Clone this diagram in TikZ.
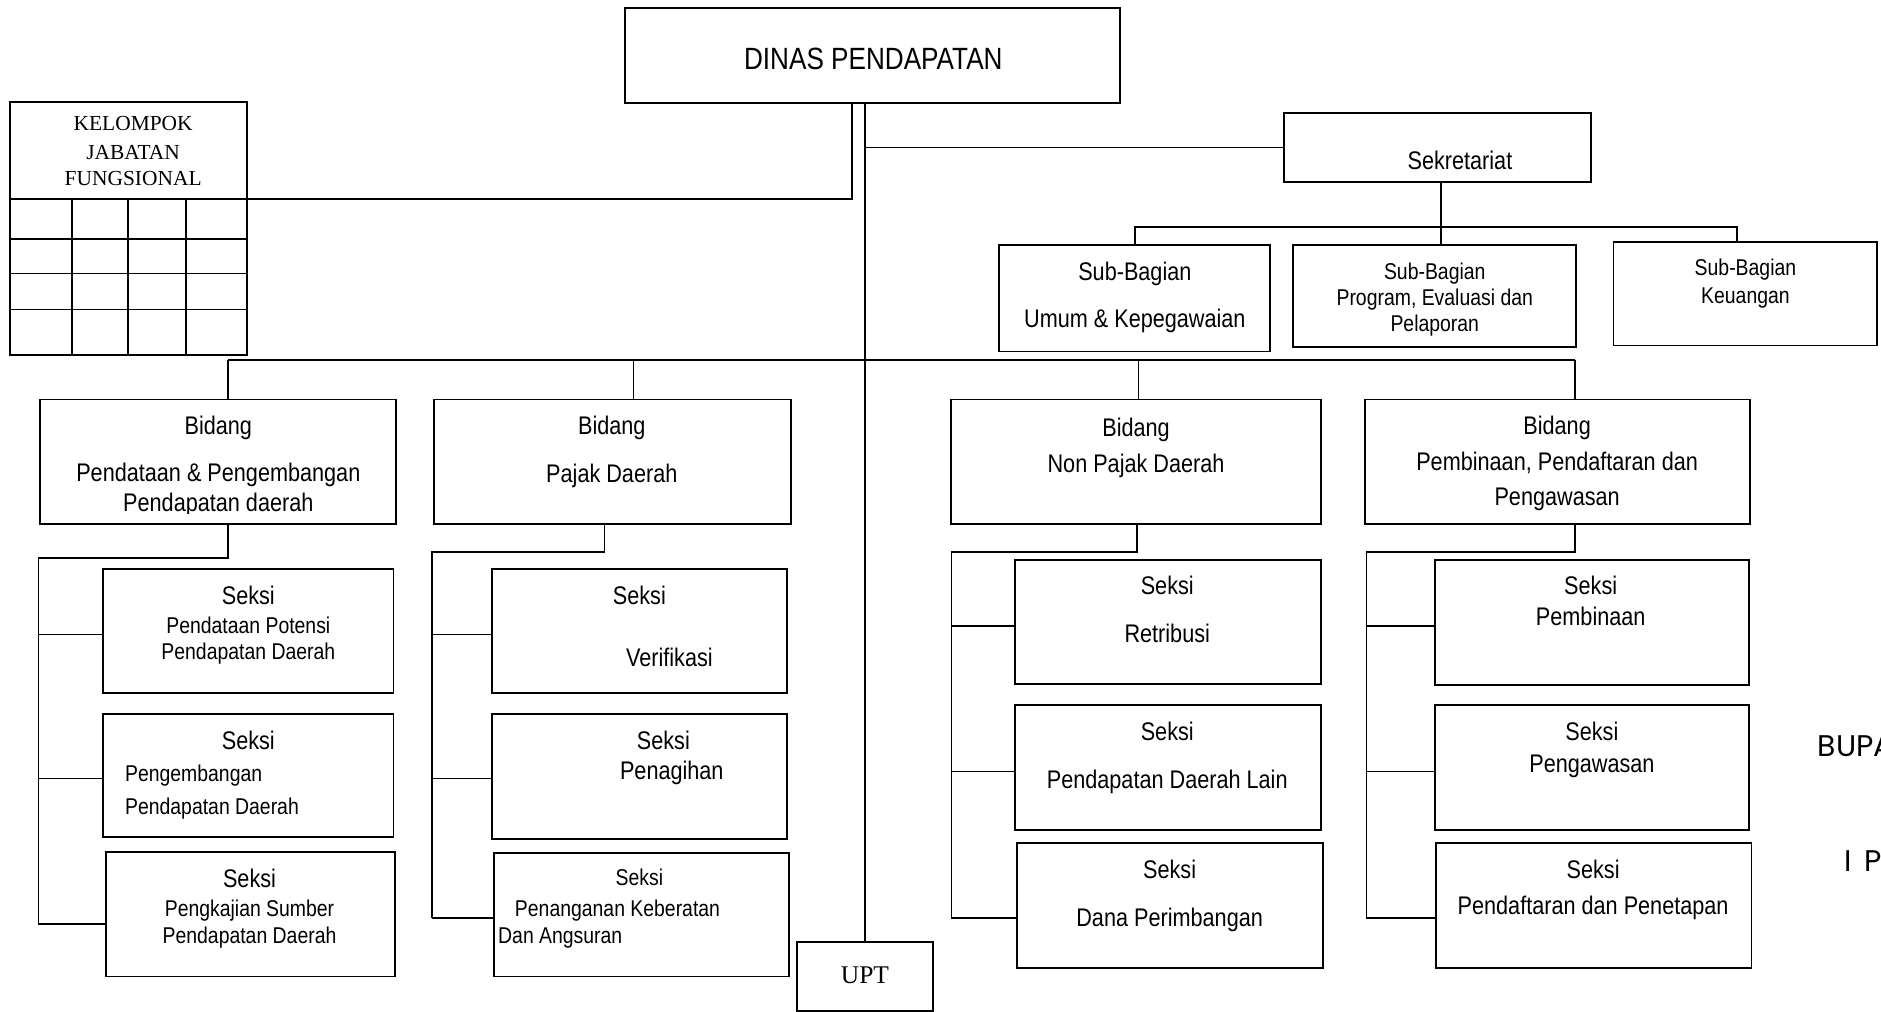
\documentclass[tikz,border=0pt]{standalone}
\usepackage{fontspec}
\setmainfont[FakeStretch=0.85]{Liberation Sans}
\newfontfamily\tnr{Liberation Serif}
\newfontfamily\gothic{Poppins}
\usetikzlibrary{fit}
\newcommand\fdinas{\fontsize{17.5}{20}\selectfont}
\newcommand\fbig{\fontsize{14.5}{17}\selectfont}
\newcommand\fsmall{\fontsize{13}{15}\selectfont}
\tikzset{
	box/.style={draw, line width=1.1pt, inner sep=0pt},
	conn/.style={line width=0.9pt},
	big/.style={font=\fbig, anchor=base, yshift=-5.2pt, inner sep=0pt},
	small/.style={font=\fsmall, anchor=base, yshift=-4.6pt, inner sep=0pt},
	serif/.style={font=\tnr\fontsize{12.2}{14}\selectfont, anchor=base, yshift=-4pt, inner sep=0pt},
	side/.style={font=\gothic\fontsize{17}{20}\selectfont, anchor=base west, yshift=-6pt, inner sep=0pt},
}
\begin{document}
\begin{tikzpicture}[x=0.024cm, y=-0.024cm]
	\useasboundingbox (0,0) rectangle (1568,843);
	\node[box, fit={(521,7) (934,86)}] (dinas) {};
	\node[big, font=\fdinas, yshift=-1.1pt] (dinast) at (728,49) {DINAS PENDAPATAN};
	\node[box, fit={(8,85) (206,296)}] (kjf) {};
	\foreach \y in {166,199,228,258} \draw[line width=1.1pt] (8,\y) -- (206,\y);
	\foreach \x in {60,107,155} \draw[line width=1.1pt] (\x,166) -- (\x,296);
	\node[serif] (kj1) at (111,102.7) {KELOMPOK};
	\node[serif] (kj2) at (111,126.7) {JABATAN};
	\node[serif] (kj3) at (111,149) {FUNGSIONAL};
	\node[box, fit={(1070,94) (1326,152)}] (sek) {};
	\node[big] (sekt) at (1217,134) {Sekretariat};
	\node[box, fit={(833,204) (1059,293)}] (sbumum) {};
	\node[big] (sbumum1) at (946,226) {Sub-Bagian};
	\node[big] (sbumum2) at (946,265) {Umum \& Kepegawaian};
	\node[box, fit={(1078,204) (1314,289)}] (sbprog) {};
	\node[small] (sbprog1) at (1196,226) {Sub-Bagian};
	\node[small] (sbprog2) at (1196,248) {Program, Evaluasi dan};
	\node[small] (sbprog3) at (1196,270) {Pelaporan};
	\node[box, fit={(1345,202) (1565,288)}] (sbkeu) {};
	\node[small] (sbkeu1) at (1455,223) {Sub-Bagian};
	\node[small] (sbkeu2) at (1455,246) {Keuangan};
	\node[box, fit={(33,333) (330,437)}] (b1) {};
	\node[big] (b1a) at (182,355) {Bidang};
	\node[big] (b1b) at (182,394) {Pendataan \& Pengembangan};
	\begin{scope}
		\clip (33,333) rectangle (330,428);
		\node[big] (b1c) at (182,419) {Pendapatan daerah};
	\end{scope}
	\node[box, fit={(362,333) (659,437)}] (b2) {};
	\node[big] (b2a) at (510,355) {Bidang};
	\node[big] (b2b) at (510,395) {Pajak Daerah};
	\node[box, fit={(793,333) (1101,437)}] (b3) {};
	\node[big] (b3a) at (947,356) {Bidang};
	\node[big] (b3b) at (947,386) {Non Pajak Daerah};
	\node[box, fit={(1138,333) (1459,437)}] (b4) {};
	\node[big] (b4a) at (1298,355) {Bidang};
	\node[big] (b4b) at (1298,385) {Pembinaan, Pendaftaran dan};
	\node[big] (b4c) at (1298,414) {Pengawasan};
	\node[box, fit={(86,474) (328,578)}] (s11) {};
	\node[big] (s11a) at (207,496) {Seksi};
	\node[small] (s11b) at (207,521) {Pendataan Potensi};
	\node[small] (s11c) at (207,543) {Pendapatan Daerah};
	\node[box, fit={(86,595) (328,698)}] (s12) {};
	\node[big] (s12a) at (207,617) {Seksi};
	\node[small, anchor=base west] (s12b) at (104,645) {Pengembangan};
	\node[small, anchor=base west] (s12c) at (104,672) {Pendapatan Daerah};
	\node[box, fit={(88,710) (329,814)}] (s13) {};
	\node[big] (s13a) at (208,732) {Seksi};
	\node[small] (s13b) at (208,757) {Pengkajian Sumber};
	\node[small] (s13c) at (208,780) {Pendapatan Daerah};
	\node[box, fit={(410,474) (656,578)}] (s21) {};
	\node[big] (s21a) at (533,496) {Seksi};
	\node[big] (s21b) at (558,548) {Verifikasi};
	\node[box, fit={(410,595) (656,699)}] (s22) {};
	\node[big] (s22a) at (553,617) {Seksi};
	\node[big] (s22b) at (560,642) {Penagihan};
	\node[box, fit={(412,711) (658,814)}] (s23) {};
	\node[small] (s23a) at (533,731) {Seksi};
	\node[small, anchor=base west] (s23b) at (429,757) {Penanganan Keberatan};
	\node[small, anchor=base west] (s23c) at (415,780) {Dan Angsuran};
	\node[box, fit={(846,467) (1101,570)}] (s31) {};
	\node[big] (s31a) at (973,488) {Seksi};
	\node[big] (s31b) at (973,528) {Retribusi};
	\node[box, fit={(846,588) (1101,692)}] (s32) {};
	\node[big] (s32a) at (973,610) {Seksi};
	\node[big] (s32b) at (973,650) {Pendapatan Daerah Lain};
	\node[box, fit={(848,703) (1103,807)}] (s33) {};
	\node[big] (s33a) at (975,725) {Seksi};
	\node[big] (s33b) at (975,765) {Dana Perimbangan};
	\node[box, fit={(1196,467) (1458,571)}] (s41) {};
	\node[big] (s41a) at (1326,488) {Seksi};
	\node[big] (s41b) at (1326,514) {Pembinaan};
	\node[box, fit={(1196,588) (1458,692)}] (s42) {};
	\node[big] (s42a) at (1327,610) {Seksi};
	\node[big] (s42b) at (1327,636) {Pengawasan};
	\node[box, fit={(1197,703) (1460,807)}] (s43) {};
	\node[big] (s43a) at (1328,725) {Seksi};
	\node[big] (s43b) at (1328,755) {Pendaftaran dan Penetapan};
	\node[box, fit={(664,785) (778,843)}] (upt) {};
	\node[serif, font=\tnr\fontsize{14.5}{16}\selectfont, yshift=-0.8pt] (uptt) at (721,812.5) {UPT};
	\node[side] (bupa) at (1515,622) {BUPA};
	\node[side] (ip) at (1537,718) {I\hspace{0.45em}P};
	\coordinate (kjh) at (206,166);
	\coordinate (kjtop) at (710,86);
	\coordinate (sekbar) at (1201,189);
	\coordinate (keudrop) at (1448,189);
	\draw[conn] (dinas.south -| upt.north) -- (upt.north);
	\draw[conn] (kjh) -| (kjtop);
	\draw[conn] (sek.west) -- (sek.west -| upt.north);
	\draw[conn] (sekbar |- sek.south) -- (sekbar |- sbprog.north);
	\draw[conn] (sbumum.north) |- (keudrop) -- (keudrop |- sbkeu.north);
	\coordinate (d1) at (190,300);
	\coordinate (d2) at (528,300);
	\coordinate (d3) at (949,300);
	\coordinate (d4) at (1313,300);
	\draw[conn] (d1) -- (d4);
	\foreach \i in {1,...,4} \draw[conn] (d\i) -- (d\i |- b\i.north);
	\foreach \g/\fx/\fy/\rx/\ya/\yb/\yc in {1/190/465/32/529/649/770, 2/504/460/360/529/649/765, 3/948/460/793/522/643/765, 4/1313/460/1139/522/643/765}{
		\coordinate (f\g) at (\fx,\fy);
		\coordinate (r\g) at (\rx,\fy);
		\coordinate (t\g1) at (\rx,\ya);
		\coordinate (t\g2) at (\rx,\yb);
		\coordinate (t\g3) at (\rx,\yc);
		\draw[conn] (f\g |- b\g.south) -- (f\g) -- (r\g) -- (t\g3);
		\foreach \j in {1,2,3} \draw[conn] (t\g\j) -- (t\g\j -| s\g\j.west);
	}
\end{tikzpicture}
\end{document}
